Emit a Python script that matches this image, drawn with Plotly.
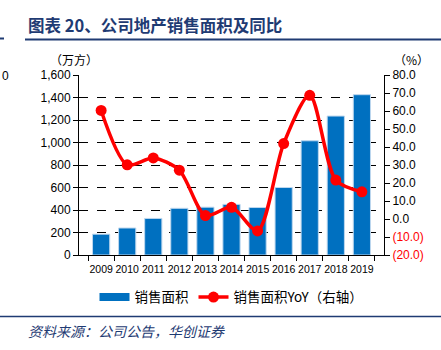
import plotly.graph_objects as go

years = ["2009", "2010", "2011", "2012", "2013", "2014", "2015", "2016", "2017", "2018", "2019"]
area = [185, 240, 325, 415, 425, 450, 422, 600, 1015, 1235, 1425]
yoy = [60.3, 30.1, 33.9, 27.1, 1.9, 6.5, -6.6, 41.9, 68.7, 21.6, 15.1]

left_ticks = list(range(0, 1601, 200))
right_ticks = list(range(-20, 81, 10))
right_text = [(f'<span style="color:#FF0000">({abs(v):.1f})</span>' if v < 0 else f"{v:.1f}") for v in right_ticks]

W, H = 441, 350
L, R, T, B = 79, 384, 75, 255

CJK = "Noto Sans CJK SC"
LAT = "Liberation Sans, Arial"

fig = go.Figure()
fig.add_trace(go.Bar(
    x=years, y=area, name="销售面积", width=0.66, showlegend=False,
    marker=dict(color="#0070C0", line=dict(color="#BDD7EE", width=1)),
    yaxis="y",
))
# legend entry for the bars (wide rectangle symbol like the reference)
fig.add_trace(go.Scatter(
    x=[None], y=[None], name="销售面积", mode="lines",
    line=dict(color="#0070C0", width=8), yaxis="y",
))
fig.add_trace(go.Scatter(
    x=years, y=yoy, name="销售面积YoY（右轴）", mode="lines+markers",
    line=dict(color="#FF0000", width=3.5, shape="spline", smoothing=0.8),
    marker=dict(color="#FF0000", size=11),
    yaxis="y2",
))

axis_font = dict(family=LAT, size=12, color="#000000")
fig.update_layout(
    width=W, height=H,
    margin=dict(l=L, r=W - R, t=T, b=H - B),
    paper_bgcolor="white", plot_bgcolor="white",
    showlegend=True,
    legend=dict(orientation="h", x=0.5, xanchor="center", y=-0.235, yanchor="middle",
                font=dict(family=CJK, size=13.5, color="#000000"),
                traceorder="normal", bgcolor="rgba(0,0,0,0)"),
    bargap=0.34,
    xaxis=dict(type="category", tickson="boundaries", ticks="outside", ticklen=5,
               tickcolor="#000", showline=True, linecolor="#000", linewidth=1, tickangle=0,
               ticklabelstandoff=4,
               tickfont=dict(family=LAT, size=10.5, color="#000"), showgrid=False),
    yaxis=dict(range=[0, 1600], tickvals=left_ticks, tickformat=",", ticks="outside",
               ticklen=5, tickcolor="#000", showline=True, linecolor="#000", linewidth=1,
               showgrid=True, gridcolor="#000", griddash="dash", gridwidth=1,
               zeroline=False, tickfont=axis_font),
    yaxis2=dict(range=[-20, 80], tickvals=right_ticks, ticktext=right_text, overlaying="y",
                side="right", ticks="outside", ticklen=5, tickcolor="#000", showline=True,
                linecolor="#000", linewidth=1, showgrid=False, zeroline=False,
                tickfont=axis_font),
)

# title, units and source texts
fig.add_annotation(xref="paper", yref="paper", x=(26 - L) / (R - L), y=(B - 25) / (B - T),
                   xanchor="left", yanchor="middle", showarrow=False,
                   text="<b>图表 20、公司地产销售面积及同比</b>",
                   font=dict(family=CJK, size=16.5, color="#1F3B73"))
fig.add_annotation(xref="paper", yref="paper", x=(48 - L) / (R - L), y=(B - 59) / (B - T),
                   xanchor="left", yanchor="middle", showarrow=False,
                   text="（万方）", font=dict(family=CJK, size=12, color="#000"))
fig.add_annotation(xref="paper", yref="paper", x=(392 - L) / (R - L), y=(B - 59) / (B - T),
                   xanchor="left", yanchor="middle", showarrow=False,
                   text="（%）", font=dict(family=CJK, size=12, color="#000"))
fig.add_annotation(xref="paper", yref="paper", x=(26 - L) / (R - L), y=(B - 331) / (B - T),
                   xanchor="left", yanchor="middle", showarrow=False,
                   text="<i>资料来源：公司公告，华创证券</i>",
                   font=dict(family=CJK, size=14, color="#1F3B73"))
fig.add_annotation(xref="paper", yref="paper", x=(0 - L) / (R - L), y=(B - 76) / (B - T),
                   xanchor="left", yanchor="middle", showarrow=False,
                   text="0", font=dict(family=LAT, size=12, color="#000"))

# decorative rules
fig.add_shape(type="line", xref="paper", yref="paper",
              x0=(25 - L) / (R - L), x1=(441 - L) / (R - L),
              y0=(B - 39.5) / (B - T), y1=(B - 39.5) / (B - T),
              line=dict(color="#1F3B73", width=2))
fig.add_shape(type="line", xref="paper", yref="paper",
              x0=(0 - L) / (R - L), x1=(4 - L) / (R - L),
              y0=(B - 38.5) / (B - T), y1=(B - 38.5) / (B - T),
              line=dict(color="#1F3B73", width=2))
fig.add_shape(type="line", xref="paper", yref="paper",
              x0=(0 - L) / (R - L), x1=(441 - L) / (R - L),
              y0=(B - 316.5) / (B - T), y1=(B - 316.5) / (B - T),
              line=dict(color="#1F3B73", width=1.5))

fig.write_html("out.html")
